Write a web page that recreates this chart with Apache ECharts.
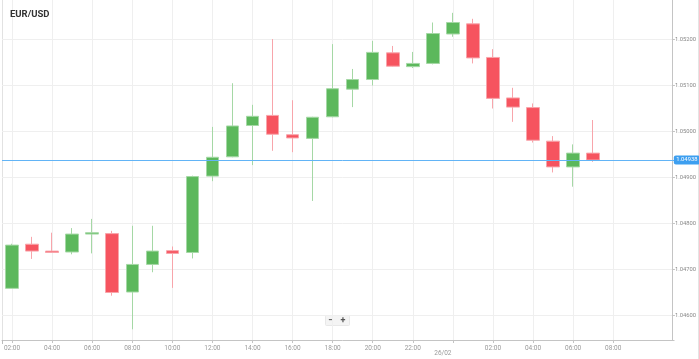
<!DOCTYPE html>
<html><head><meta charset="utf-8">
<script src="https://cdn.jsdelivr.net/npm/echarts@6/dist/echarts.min.js"></script>
<style>html,body{margin:0;padding:0;background:#fff}#c{width:699px;height:359px}</style>
</head><body><div id="c"></div>
<script>
const categories = ['02:00','03:00','04:00','05:00','06:00','07:00','08:00','09:00','10:00','11:00','12:00','13:00','14:00','15:00','16:00','17:00','18:00','19:00','20:00','21:00','22:00','23:00','00:00','01:00','02:00','03:00','04:00','05:00','06:00','07:00','08:00','09:00','10:00','11:00'];
const opens  = [1.04659,1.04755,1.04740,1.04738,1.04777,1.04778,1.04651,1.04711,1.04741,1.04737,1.04903,1.04945,1.05013,1.05035,1.04993,1.04985,1.05032,1.05092,1.05113,1.05171,1.05141,1.05148,1.05212,1.05234,1.05161,1.05073,1.05052,1.04979,1.04923,1.04953];
const closes = [1.04753,1.04740,1.04737,1.04777,1.04780,1.04650,1.04711,1.04740,1.04735,1.04902,1.04944,1.05012,1.05033,1.04994,1.04986,1.05031,1.05093,1.05113,1.05172,1.05142,1.05148,1.05213,1.05237,1.05160,1.05072,1.05053,1.04981,1.04923,1.04953,1.04938];
const lows   = [1.04659,1.04723,1.04736,1.04733,1.04735,1.04643,1.04570,1.04694,1.04660,1.04724,1.04892,1.04944,1.04927,1.04958,1.04955,1.04849,1.05031,1.05053,1.05100,1.05141,1.05138,1.05146,1.05206,1.05148,1.05050,1.05021,1.04976,1.04911,1.04880,1.04934];
const highs  = [1.04756,1.04771,1.04780,1.04790,1.04810,1.04784,1.04795,1.04795,1.04750,1.04904,1.05010,1.05105,1.05058,1.05201,1.05068,1.05032,1.05190,1.05136,1.05197,1.05186,1.05173,1.05237,1.05258,1.05245,1.05179,1.05095,1.05061,1.04990,1.04972,1.05025];
const yTicks = [1.046,1.047,1.048,1.049,1.050,1.051,1.052];
const currentPrice = 1.04938;
const dayBreakIndex = 22;
const dayLabel = '26/02';
const yMin = 1.045467, yMax = 1.052859;

const candleData = opens.map((o,i)=>[o, closes[i], lows[i], highs[i]]);
const labelShown = (i)=> i%2===0 && i<=30;
const vLines = categories.map((c,i)=>i).filter(labelShown).map(i=>({xAxis:i}));
const hLines = yTicks.map(v=>({yAxis:v}));

const chart = echarts.init(document.getElementById('c'), null, {renderer:'canvas'});
chart.setOption({
  animation:false,
  backgroundColor:'#fff',
  textStyle:{fontFamily:'Roboto, sans-serif'},
  title:{text:'EUR/USD', left:5, top:5, textStyle:{fontSize:9.5, fontWeight:'bold', color:'#333', fontFamily:'Roboto, sans-serif'}},
  grid:{left:2, right:13.6, top:0, bottom:19, containLabel:false},
  xAxis:[{
    type:'category', data:categories, boundaryGap:true, position:'bottom', z:0,
    axisLine:{show:true, lineStyle:{color:'#c4c4c4', width:1}},
    axisTick:{show:true, alignWithLabel:true, length:3, interval:(i)=>labelShown(i), lineStyle:{color:'#c4c4c4'}},
    axisLabel:{interval:(i)=>labelShown(i), fontSize:6.5, color:'#999', margin:5,
      formatter:(v,i)=> i===dayBreakIndex ? '{d|'+dayLabel+'}' : v,
      rich:{d:{fontSize:6.5, color:'#999', padding:[5,20,0,0]}}},
    splitLine:{show:false}
  },{
    type:'category', data:categories, boundaryGap:true, position:'bottom', z:0,
    axisLine:{show:false}, axisLabel:{show:false},
    axisTick:{show:true, interval:(i)=>i===dayBreakIndex, length:6, lineStyle:{color:'#bbb', type:'dashed'}},
    splitLine:{show:true, interval:(i)=>i===dayBreakIndex, lineStyle:{color:'#e2e2e2', width:1}}
  }],
  yAxis:{
    type:'value', position:'right', offset:-11.4, min:yMin, max:yMax, z:3, scale:true,
    axisLine:{show:true, lineStyle:{color:'#c4c4c4'}},
    axisTick:{show:true, length:3, customValues:yTicks, lineStyle:{color:'#c4c4c4'}},
    axisLabel:{customValues:yTicks, fontSize:5.8, color:'#888', margin:3, formatter:(v)=>v.toFixed(5)},
    splitLine:{show:false}
  },
  graphic:[
    {type:'rect', z:1, silent:true, shape:{x:674.5, y:0, width:25, height:359}, style:{fill:'#fff'}},
    {type:'line', z:4, silent:true, shape:{x1:698.5, y1:0, x2:698.5, y2:359}, style:{stroke:'#e4e4e4', lineWidth:1}},
    {type:'group', left:325, top:315, z:5, children:[
      {type:'rect', shape:{x:0, y:0, width:24, height:10, r:1}, style:{fill:'#f4f4f4', stroke:'#e8e8e8', lineWidth:1}},
      {type:'text', style:{x:5, y:5, text:'−', fill:'#555', font:'bold 9px Roboto, sans-serif', textAlign:'center', textVerticalAlign:'middle'}},
      {type:'text', style:{x:17.5, y:5, text:'+', fill:'#555', font:'bold 9px Roboto, sans-serif', textAlign:'center', textVerticalAlign:'middle'}}
    ]}
  ],
  series:[{
    type:'line', data:categories.map(()=>null), z:0, silent:true, xAxisIndex:0, yAxisIndex:0,
    markLine:{silent:true, z:0, precision:6, symbol:['none','none'], label:{show:false},
      lineStyle:{color:'#efefef', type:'solid', width:1}, data:vLines.concat(hLines)}
  },{
    type:'candlestick', data:candleData, xAxisIndex:0, yAxisIndex:0, z:2, barWidth:13,
    itemStyle:{color:'#5cb85c', color0:'#f6545f', borderColor:'#a5d8a5', borderColor0:'#f8a5ab', borderWidth:1},
    markLine:{silent:true, precision:6, symbol:['none','none'],
      lineStyle:{color:'#62b4f6', type:'solid', width:1},
      label:{show:true, position:'end', formatter:currentPrice.toFixed(5), backgroundColor:'#3d9ff0', color:'#fff', fontSize:5.8, padding:[1.5,2.5], borderRadius:2, distance:0, offset:[-9.5,0]},
      data:[{yAxis:currentPrice}]}
  }]
});
</script>
</body></html>
